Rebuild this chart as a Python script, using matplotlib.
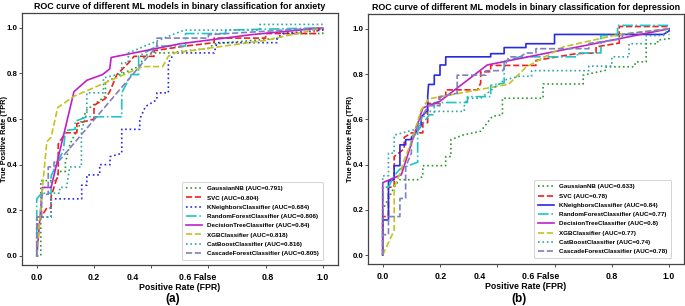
import matplotlib
matplotlib.use("Agg")
import matplotlib.pyplot as plt
import matplotlib.transforms as mtransforms

plt.rcParams['font.family'] = ['Liberation Sans', 'DejaVu Sans']
plt.rcParams['font.weight'] = 'bold'

# ---------------- Panel (a): anxiety ----------------
a_gnb_fpr = [0, 0.014, 0.014, 0.07, 0.076, 0.1, 0.1, 0.116, 0.14, 0.175, 0.19, 0.24, 0.24, 0.27, 0.3, 0.356, 0.38, 0.414, 0.46, 0.6, 0.62, 0.85, 0.86, 1.0, 1.0]
a_gnb_tpr = [0, 0, 0.33, 0.33, 0.37, 0.37, 0.41, 0.49, 0.55, 0.64, 0.655, 0.70, 0.76, 0.78, 0.80, 0.83, 0.88, 0.89, 0.89, 0.91, 0.93, 0.955, 0.975, 0.975, 1.0]

a_svc_fpr = [0, 0, 0.015, 0.035, 0.05, 0.05, 0.075, 0.075, 0.1, 0.14, 0.14, 0.2, 0.2, 0.22, 0.24, 0.255, 0.28, 0.3, 0.32, 0.34, 0.41, 0.41, 0.52, 0.62, 0.62, 0.8, 0.8, 0.98, 0.98, 1.0]
a_svc_tpr = [0, 0.13, 0.17, 0.21, 0.21, 0.26, 0.36, 0.49, 0.54, 0.54, 0.58, 0.6, 0.66, 0.675, 0.69, 0.72, 0.795, 0.82, 0.845, 0.875, 0.875, 0.9, 0.92, 0.935, 0.955, 0.955, 0.975, 0.975, 0.99, 1.0]

a_knn_fpr = [0, 0, 0.05, 0.05, 0.157, 0.157, 0.175, 0.175, 0.22, 0.22, 0.256, 0.256, 0.297, 0.297, 0.36, 0.36, 0.38, 0.42, 0.42, 0.46, 0.46, 0.48, 0.62, 0.63, 0.84, 0.84, 0.86, 1.0, 1.0]
a_knn_tpr = [0, 0.17, 0.17, 0.25, 0.25, 0.31, 0.31, 0.355, 0.355, 0.40, 0.40, 0.435, 0.45, 0.555, 0.555, 0.60, 0.655, 0.685, 0.715, 0.715, 0.846, 0.89, 0.89, 0.935, 0.935, 0.955, 0.975, 0.99, 1.0]

a_rf_fpr = [0, 0, 0.017, 0.05, 0.05, 0.075, 0.093, 0.1, 0.134, 0.134, 0.175, 0.297, 0.297, 0.33, 0.356, 0.356, 0.42, 0.52, 0.52, 0.66, 0.66, 1.0]
a_rf_tpr = [0, 0.25, 0.275, 0.275, 0.35, 0.42, 0.46, 0.55, 0.555, 0.59, 0.61, 0.61, 0.715, 0.795, 0.795, 0.876, 0.92, 0.92, 0.975, 0.975, 0.99, 1.0]

a_dt_fpr = [0, 0.02, 0.05, 0.13, 0.175, 0.23, 0.255, 0.26, 0.5, 0.75, 1.0]
a_dt_tpr = [0, 0.30, 0.30, 0.72, 0.77, 0.795, 0.82, 0.87, 0.93, 0.97, 1.0]

a_xgb_fpr = [0, 0.017, 0.035, 0.05, 0.073, 0.13, 0.37, 0.44, 0.46, 0.48, 0.8, 1.0]
a_xgb_tpr = [0, 0.26, 0.50, 0.52, 0.65, 0.70, 0.83, 0.83, 0.875, 0.89, 0.945, 1.0]

a_cat_fpr = [0, 0, 0.05, 0.05, 0.08, 0.08, 0.104, 0.115, 0.156, 0.156, 0.175, 0.175, 0.233, 0.233, 0.297, 0.297, 0.32, 0.32, 0.484, 0.517, 0.78, 0.78, 1.0]
a_cat_tpr = [0, 0.17, 0.17, 0.275, 0.275, 0.30, 0.30, 0.39, 0.39, 0.55, 0.627, 0.715, 0.715, 0.78, 0.80, 0.846, 0.846, 0.89, 0.975, 0.99, 0.99, 1.015, 1.015]

a_cf_fpr = [0, 0, 0.017, 0.017, 0.04, 0.04, 0.06, 0.06, 0.08, 0.42, 0.42, 0.6, 0.6, 1.0]
a_cf_tpr = [0, 0.17, 0.17, 0.27, 0.27, 0.39, 0.39, 0.41, 0.42, 0.92, 0.955, 0.955, 0.97, 1.0]

a_auc = ["0.791", "0.804", "0.684", "0.806", "0.84", "0.818", "0.816", "0.805"]

# ---------------- Panel (b): depression ----------------
b_gnb_fpr = [0, 0, 0.04, 0.058, 0.122, 0.14, 0.14, 0.22, 0.22, 0.238, 0.238, 0.279, 0.342, 0.383, 0.418, 0.418, 0.56, 0.56, 0.7, 0.7, 0.78, 0.78, 0.878, 0.884, 0.92, 0.92, 0.96, 0.96, 1.0, 1.0]
b_gnb_tpr = [0, 0.2, 0.3, 0.333, 0.333, 0.348, 0.395, 0.395, 0.435, 0.435, 0.51, 0.53, 0.547, 0.613, 0.62, 0.693, 0.693, 0.756, 0.756, 0.795, 0.817, 0.832, 0.832, 0.854, 0.854, 0.934, 0.934, 0.95, 0.956, 0.975]

b_svc_fpr = [0, 0, 0.02, 0.02, 0.04, 0.04, 0.075, 0.075, 0.1, 0.14, 0.14, 0.157, 0.157, 0.197, 0.197, 0.22, 0.22, 0.331, 0.342, 0.342, 0.377, 0.377, 0.535, 0.535, 0.675, 0.745, 0.745, 0.826, 0.826, 1.0]
b_svc_tpr = [0, 0.17, 0.17, 0.3, 0.3, 0.435, 0.47, 0.52, 0.54, 0.54, 0.585, 0.585, 0.67, 0.67, 0.70, 0.70, 0.73, 0.73, 0.76, 0.81, 0.81, 0.838, 0.838, 0.86, 0.89, 0.893, 0.92, 0.937, 1.01, 1.01]

b_knn_fpr = [0, 0, 0.02, 0.02, 0.04, 0.04, 0.06, 0.06, 0.08, 0.08, 0.1, 0.1, 0.134, 0.134, 0.157, 0.157, 0.16, 0.18, 0.18, 0.2, 0.2, 0.22, 0.22, 0.377, 0.377, 0.424, 0.424, 0.5, 0.5, 0.6, 0.6, 0.98, 1.0, 1.0]
b_knn_tpr = [0, 0.155, 0.155, 0.326, 0.333, 0.395, 0.395, 0.487, 0.487, 0.51, 0.51, 0.52, 0.57, 0.61, 0.64, 0.70, 0.754, 0.754, 0.795, 0.795, 0.84, 0.84, 0.876, 0.876, 0.89, 0.89, 0.917, 0.917, 0.934, 0.934, 0.975, 0.975, 0.99, 1.0]

b_rf_fpr = [0, 0, 0.02, 0.04, 0.06, 0.1, 0.122, 0.122, 0.163, 0.18, 0.18, 0.296, 0.296, 0.377, 0.377, 0.424, 0.424, 0.477, 0.68, 0.68, 0.762, 0.762, 0.82, 0.82, 1.0]
b_rf_tpr = [0, 0.3, 0.3, 0.35, 0.38, 0.4, 0.41, 0.55, 0.62, 0.62, 0.674, 0.674, 0.70, 0.70, 0.75, 0.76, 0.855, 0.876, 0.876, 0.893, 0.893, 0.97, 0.97, 1.015, 1.015]

b_dt_fpr = [0, 0, 0.065, 0.14, 0.2, 0.365, 1.0]
b_dt_tpr = [0, 0.32, 0.355, 0.65, 0.68, 0.84, 1.0]

b_xgb_fpr = [0, 0.04, 0.04, 0.06, 0.075, 0.1, 0.134, 0.16, 0.44, 0.5, 0.63, 0.825, 1.0]
b_xgb_tpr = [0, 0.11, 0.30, 0.36, 0.42, 0.50, 0.64, 0.69, 0.755, 0.83, 0.92, 0.975, 1.0]

b_cat_fpr = [0, 0, 0.02, 0.02, 0.04, 0.04, 0.11, 0.157, 0.285, 0.285, 0.296, 0.342, 0.424, 0.477, 0.52, 0.52, 0.72, 0.72, 0.8, 0.8, 0.86, 0.86, 0.92, 0.92, 0.98, 1.0]
b_cat_tpr = [0, 0.35, 0.35, 0.45, 0.45, 0.53, 0.554, 0.635, 0.635, 0.66, 0.693, 0.693, 0.773, 0.79, 0.79, 0.815, 0.815, 0.835, 0.835, 0.876, 0.876, 0.934, 0.934, 0.97, 0.97, 1.0]

b_cf_fpr = [0, 0, 0.02, 0.02, 0.06, 0.06, 0.08, 0.08, 0.1, 0.1, 0.12, 0.14, 0.16, 0.2, 0.2, 0.26, 0.26, 0.36, 0.36, 0.42, 0.44, 0.48, 0.5, 0.535, 0.535, 0.72, 0.72, 0.837, 0.837, 1.0]
b_cf_tpr = [0, 0.09, 0.09, 0.17, 0.17, 0.25, 0.25, 0.39, 0.45, 0.5, 0.55, 0.62, 0.66, 0.66, 0.70, 0.715, 0.795, 0.795, 0.815, 0.815, 0.876, 0.876, 0.893, 0.893, 0.912, 0.912, 0.935, 0.956, 0.975, 1.0]

b_auc = ["0.633", "0.78", "0.84", "0.77", "0.8", "0.77", "0.74", "0.78"]

model_names = ["GaussianNB", "SVC", "KNeighborsClassifier", "RandomForestClassifier",
               "DecisionTreeClassifier", "XGBClassifier", "CatBoostClassifier",
               "CascadeForestClassifier"]

titles = ["ROC curve of different ML models in binary classification for anxiety",
          "ROC curve of different ML models in binary classification for depression"]
panel_labels = ["(a)", "(b)"]
xtick_vals = [0.0, 0.2, 0.4, 0.6, 0.8, 1.0]
xtick_texts = ["0.0", "0.2", "0.4", "0.6 False", "0.8", "1.0"]
ytick_vals = [0.0, 0.2, 0.4, 0.6, 0.8, 1.0]

colors = ["#2f9a2f", "#f02020", "#2a2ae0", "#20c4c4", "#c020c8", "#c4c420", "#30a8a8", "#8080c0"]
styles_a = [":", "--", ":", "-.", "-", "--", ":", "--"]
styles_b = [":", "--", "-", "-.", "-", "--", ":", "--"]

a_series = [(a_gnb_fpr, a_gnb_tpr), (a_svc_fpr, a_svc_tpr), (a_knn_fpr, a_knn_tpr),
            (a_rf_fpr, a_rf_tpr), (a_dt_fpr, a_dt_tpr), (a_xgb_fpr, a_xgb_tpr),
            (a_cat_fpr, a_cat_tpr), (a_cf_fpr, a_cf_tpr)]
b_series = [(b_gnb_fpr, b_gnb_tpr), (b_svc_fpr, b_svc_tpr), (b_knn_fpr, b_knn_tpr),
            (b_rf_fpr, b_rf_tpr), (b_dt_fpr, b_dt_tpr), (b_xgb_fpr, b_xgb_tpr),
            (b_cat_fpr, b_cat_tpr), (b_cf_fpr, b_cf_tpr)]

fig = plt.figure(figsize=(6.85, 3.06), dpi=100)
ax_a = fig.add_axes([0.032, 0.134, 0.461, 0.8235])
ax_b = fig.add_axes([0.537, 0.137, 0.4615, 0.817])

# label x positions (shifted labels as in the reference)
xlabel_pos_a = [0.0, 0.2, 0.336, 0.563, 0.807, 1.0]
xlabel_pos_b = [0.0, 0.204, 0.338, 0.553, 0.80, 1.0]

panels = [(ax_a, a_series, a_auc, styles_a, xlabel_pos_a, (0.962, 0.008), -0.056),
          (ax_b, b_series, b_auc, styles_b, xlabel_pos_b, (0.97, 0.012), -0.054)]

TICK_FS = 6.3
for i, (ax, series, aucs, styles, xlp, anchor, ylx) in enumerate(panels):
    for (fx, ty), name, auc, col, ls in zip(series, model_names, aucs, colors, styles):
        ax.plot(fx, ty, color=col, linestyle=ls, linewidth=1.2,
                label=f"{name} (AUC={auc})")
    ax.set_xlim(-0.052, 1.052)
    ax.set_ylim(-0.04, 1.065)
    ax.set_xticks(xtick_vals)
    ax.set_xticklabels([""] * len(xtick_vals))
    ax.set_yticks(ytick_vals)
    ax.set_yticklabels([f"{v:.1f}" for v in ytick_vals], fontsize=5.7, fontweight='bold')
    ax.tick_params(axis='both', length=2, width=0.6, pad=1.0, colors='#333333')
    ax.tick_params(axis='y', labelcolor='black')
    trans = mtransforms.blended_transform_factory(ax.transData, ax.transAxes)
    for xp, txt in zip(xlp, xtick_texts):
        ax.text(xp, -0.03, txt, transform=trans, ha='center', va='top',
                fontsize=TICK_FS, fontweight='bold')
    ax.text(0.5, -0.072, "Positive Rate (FPR)", transform=ax.transAxes,
            ha='center', va='top', fontsize=TICK_FS, fontweight='bold')
    ax.text(ylx, 0.5, "True Positive Rate (TPR)", transform=ax.transAxes,
            rotation=90, ha='center', va='center', fontsize=5.3, fontweight='bold')
    ax.set_title(titles[i], fontsize=6.4, fontweight='bold', pad=3)
    for sp in ax.spines.values():
        sp.set_color('#444444')
        sp.set_linewidth(0.9)
    leg = ax.legend(loc='lower right', bbox_to_anchor=anchor,
                    handlelength=2.6, labelspacing=0.62, borderpad=0.6,
                    frameon=True, fancybox=True, framealpha=1.0,
                    prop={'weight': 'bold', 'size': 4.5})
    leg.get_frame().set_edgecolor('#cccccc')
    leg.get_frame().set_linewidth(0.6)

fig.text(173 / 685, 1 - 299 / 306, "(a)", ha='center', va='center', fontsize=8.5, fontweight='bold')
fig.text(519 / 685, 1 - 299 / 306, "(b)", ha='center', va='center', fontsize=8.5, fontweight='bold')

fig.savefig("out.png", dpi=100)
